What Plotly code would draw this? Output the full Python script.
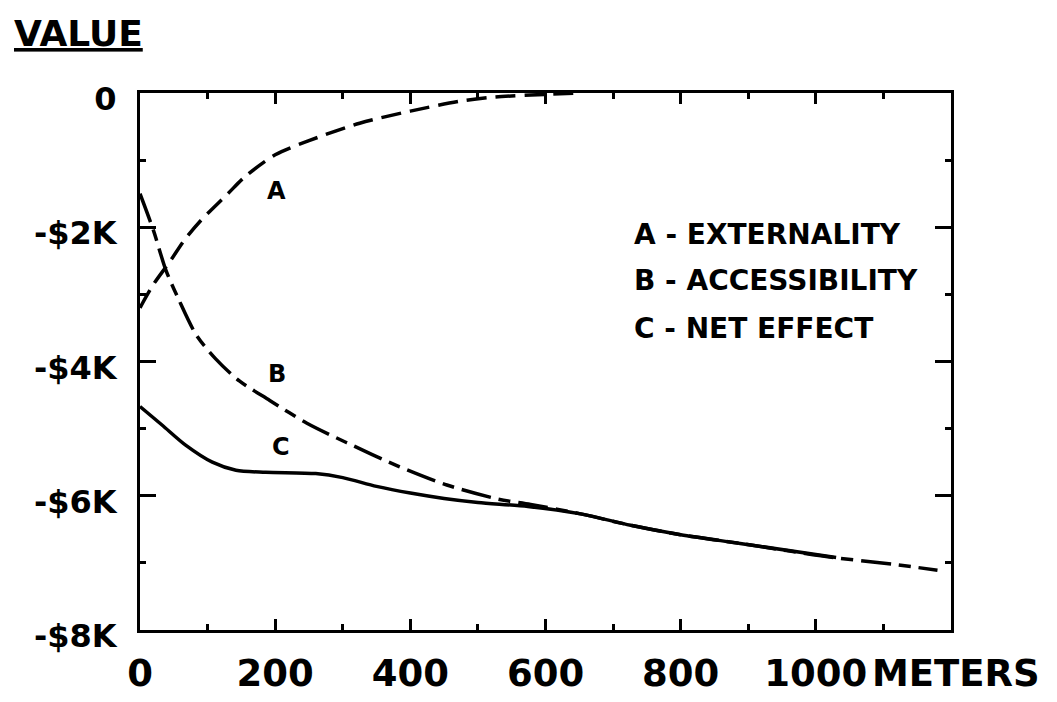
import plotly.graph_objects as go

# ---- data (distance in meters, value in $K) ----
ext_x = [0, 20, 45, 65, 90, 130, 155, 200, 250, 325, 400, 475, 525, 600, 650]
ext_y = [-3.2, -2.85, -2.5, -2.2, -1.9, -1.5, -1.25, -0.92, -0.71, -0.45, -0.27, -0.12, -0.06, -0.02, 0.0]

acc_x = [0, 20, 38, 57, 83, 112, 147, 192, 247, 306, 380, 454, 530, 578, 652, 726, 800, 888, 1026, 1114, 1180]
acc_y = [-1.5, -2.05, -2.63, -3.07, -3.6, -3.96, -4.29, -4.58, -4.92, -5.21, -5.55, -5.84, -6.05, -6.13,
         -6.27, -6.44, -6.58, -6.71, -6.92, -7.02, -7.11]

net_x = [0, 33, 68, 107, 142, 186, 260, 300, 350, 400, 450, 500, 574, 652, 726, 800, 888, 1030]
net_y = [-4.67, -4.95, -5.25, -5.5, -5.62, -5.65, -5.67, -5.73, -5.86, -5.96, -6.04, -6.1, -6.16, -6.27,
         -6.44, -6.58, -6.71, -6.92]

x_tickvals = [0, 200, 400, 600, 800, 1000]
x_ticktext = ["0", "200", "400", "600", "800", "1000"]
y_tickvals = [0, -2, -4, -6, -8]
y_ticktext = ["0", "-$2K", "-$4K", "-$6K", "-$8K"]

legend_lines = ["A - EXTERNALITY", "B - ACCESSIBILITY", "C - NET EFFECT"]
curve_labels = ["A", "B", "C"]
curve_label_x = [202, 202, 209]
curve_label_y = [-1.46, -4.18, -5.27]

FONT = "DejaVu Sans"
INK = "black"


def bold(s):
    return "<b>" + s + "</b>"


fig = go.Figure()
fig.add_trace(go.Scatter(x=ext_x, y=ext_y, mode="lines",
                         line=dict(color=INK, width=3.5, dash="20px,9px", shape="spline", smoothing=0.8),
                         name="A", hoverinfo="skip"))
fig.add_trace(go.Scatter(x=acc_x, y=acc_y, mode="lines",
                         line=dict(color=INK, width=3.5, dash="30px,8px,12px,8px", shape="spline", smoothing=0.8),
                         name="B", hoverinfo="skip"))
fig.add_trace(go.Scatter(x=net_x, y=net_y, mode="lines",
                         line=dict(color=INK, width=3.5, shape="spline", smoothing=0.8),
                         name="C", hoverinfo="skip"))

for t, xx, yy in zip(curve_labels, curve_label_x, curve_label_y):
    fig.add_annotation(x=xx, y=yy, xref="x", yref="y", text=bold(t), showarrow=False,
                       font=dict(family=FONT, size=24, color=INK))

leg_y = [0.736, 0.650, 0.562]
for t, yy in zip(legend_lines, leg_y):
    fig.add_annotation(x=0.607, y=yy, xref="paper", yref="paper", text=bold(t), showarrow=False,
                       xanchor="left", yanchor="middle",
                       font=dict(family=FONT, size=28, color=INK))

fig.add_annotation(x=-0.158, y=1.11, xref="paper", yref="paper", text="<b><u>VALUE</u></b>",
                   showarrow=False, xanchor="left", yanchor="middle",
                   font=dict(family=FONT, size=36, color=INK))

fig.add_annotation(x=1000, y=0, xref="x", yref="paper", text=bold("METERS"), showarrow=False,
                   xanchor="left", yanchor="middle", xshift=54, yshift=-43,
                   font=dict(family=FONT, size=37, color=INK))

fig.update_xaxes(range=[0, 1200], tickvals=x_tickvals, ticktext=[bold(t) for t in x_ticktext],
                 ticks="inside", ticklen=11, tickwidth=2.5, tickcolor=INK,
                 minor=dict(dtick=100, ticks="inside", ticklen=6, tickwidth=2.5, tickcolor=INK),
                 showline=True, linewidth=3, linecolor=INK, mirror="allticks",
                 showgrid=False, zeroline=False, ticklabelstandoff=9, automargin=False,
                 tickfont=dict(family=FONT, size=37, color=INK))
fig.update_yaxes(range=[-8, 0], tickvals=y_tickvals, ticktext=[bold(t) for t in y_ticktext],
                 ticks="inside", ticklen=16, tickwidth=2.5, tickcolor=INK,
                 minor=dict(dtick=1, ticks="inside", ticklen=6, tickwidth=2.5, tickcolor=INK),
                 showline=True, linewidth=3, linecolor=INK, mirror="allticks",
                 showgrid=False, zeroline=False, ticklabelstandoff=14, ticklabelshift=6,
                 automargin=False,
                 tickfont=dict(family=FONT, size=32, color=INK))

# the page body adds an 8px offset, so the figure is sized to fill the rest of the window
fig.update_layout(width=1049, height=694, showlegend=False,
                  paper_bgcolor="white", plot_bgcolor="white",
                  margin=dict(l=132, r=106, t=85, b=72))

fig.write_html("out.html")
